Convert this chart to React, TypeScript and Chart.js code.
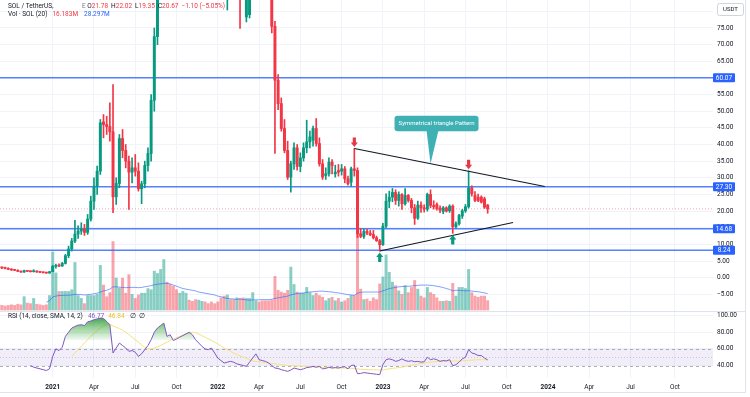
import React, { useEffect, useRef } from 'react';
import { Chart, registerables } from 'chart.js';

Chart.register(...registerables);

const FONT = 'Roboto, "Noto Sans", sans-serif';
const GREEN = '#089981';
const RED = '#f23645';
const BLUE = '#2962ff';

// Week index 0 = the weekly bar that opens 2021-01-04
const FIRST_WEEK = -17;

const opens = [
  3.4, 3.1, 2.9, 2.8, 2.5, 2.3, 2.2, 1.9, 1.7, 2.1,
  1.9, 1.8, 2.0, 1.7, 1.6, 1.5, 1.4, 1.8, 3.4, 3.6,
  3.5, 4.3, 6.6, 8.6, 11.0, 13.1, 14.0, 14.6, 13.6, 17.6,
  23.0, 27.5, 32.0, 46.8, 46.0, 45.4, 43.8, 24.3, 28.3, 41.8,
  38.2, 35.0, 31.7, 33.0, 32.0, 26.7, 28.2, 33.7, 37.3, 53.3,
  72.4, 100, 140, 172, 150, 140, 150, 140, 165, 195,
  240, 215, 210, 195, 230, 235, 205, 190, 175, 170,
  142, 128, 95, 115, 110, 98, 102, 90, 78.3, 79,
  94, 107, 122, 112, 101, 99, 88, 75.5, 59.3, 52.3,
  44.8, 38.2, 30.2, 34.2, 39.0, 33.4, 36.0, 39.0, 40.8, 41.3,
  44.8, 40.3, 34.2, 30.7, 31.2, 34.7, 31.2, 32.2, 32.0, 32.7,
  29.7, 28.7, 32.7, 32.2, 13.2, 12.4, 13.9, 13.4, 13.0, 12.0,
  11.1, 9.9, 15.5, 23.0, 24.2, 25.6, 23.2, 25.0, 22.2, 24.7,
  23.2, 21.0, 17.9, 21.8, 21.0, 20.6, 25.0, 21.7, 22.0, 20.9,
  19.9, 21.0, 20.1, 21.5, 15.3, 16.2, 18.5, 20.1, 21.3, 27.0,
  24.7, 24.2, 24.2, 23.7, 21.78,
];
const highs = [
  3.7, 3.3, 3.2, 3.0, 2.7, 2.5, 2.4, 2.0, 2.3, 2.2,
  2.0, 2.4, 2.1, 1.8, 1.7, 1.6, 1.9, 3.7, 4.1, 4.2,
  4.6, 7.0, 9.5, 11.8, 17.2, 15.6, 16.5, 16.0, 19.0, 24.5,
  30.0, 33.5, 47.5, 49.0, 48.5, 52.5, 58.0, 30.0, 43.0, 44.5,
  40.0, 36.5, 36.0, 37.0, 34.5, 29.0, 35.0, 39.0, 55.0, 75.0,
  110, 145, 216, 180, 160, 150, 160, 175, 200, 260,
  248, 240, 230, 235, 240, 238, 210, 195, 190, 180,
  148, 132, 105, 118, 118, 104, 104, 100, 91, 96,
  110, 130, 137, 115, 110, 104, 99, 77, 61, 54,
  47.5, 41.0, 35.0, 40.5, 40.0, 37.5, 40.5, 47.3, 44.0, 45.5,
  47.8, 42.0, 35.5, 33.0, 36.0, 35.5, 33.8, 34.0, 34.0, 33.4,
  30.5, 33.2, 38.8, 33.0, 14.8, 14.6, 14.5, 14.2, 14.2, 12.5,
  11.5, 16.3, 25.2, 26.0, 26.8, 26.4, 25.8, 25.3, 26.8, 25.0,
  23.8, 22.0, 23.0, 22.8, 21.9, 25.4, 26.4, 23.1, 22.5, 21.6,
  21.4, 21.3, 21.9, 21.9, 16.8, 19.0, 20.5, 22.0, 32.1, 27.6,
  25.9, 25.1, 24.6, 24.2, 22.02,
];
const lows = [
  2.7, 2.7, 2.6, 2.4, 2.2, 2.1, 1.8, 1.6, 1.6, 1.8,
  1.7, 1.7, 1.6, 1.5, 1.4, 1.3, 1.3, 1.8, 2.9, 3.3,
  3.4, 4.1, 6.0, 8.0, 10.5, 11.8, 13.0, 12.7, 13.0, 17.0,
  20.5, 25.0, 31.0, 42.0, 43.0, 41.0, 19.5, 22.0, 27.0, 36.0,
  33.0, 20.5, 28.5, 30.5, 26.0, 22.2, 27.0, 32.0, 35.0, 50.0,
  70, 95, 135, 138, 125, 128, 135, 138, 160, 190,
  210, 200, 190, 190, 200, 200, 180, 170, 165, 140,
  125, 90, 80.4, 92, 92, 88, 74.9, 84, 76.8, 78,
  93, 104, 110, 97, 95, 88, 73.5, 37.3, 50.5, 44,
  37.5, 29.5, 25.7, 32.5, 32.3, 31.8, 35.0, 37.5, 39.0, 39.5,
  39.5, 33.5, 29.5, 29.5, 30.5, 31.2, 30.2, 30.5, 30.8, 28.5,
  27.8, 27.5, 30.5, 12.0, 12.0, 11.8, 12.9, 12.6, 11.6, 10.9,
  8.0, 9.7, 15.0, 21.0, 22.8, 22.0, 21.5, 20.5, 21.8, 22.7,
  19.5, 16.0, 17.5, 19.6, 19.7, 20.0, 21.0, 20.6, 20.3, 19.5,
  19.2, 19.7, 19.6, 13.3, 14.9, 15.8, 17.8, 19.6, 20.9, 24.5,
  22.8, 22.8, 22.4, 20.8, 19.35,
];
const closes = [
  3.1, 2.9, 2.8, 2.5, 2.3, 2.2, 1.9, 1.7, 2.1, 1.9,
  1.8, 2.0, 1.7, 1.6, 1.5, 1.4, 1.8, 3.4, 3.6, 3.5,
  4.3, 6.6, 8.6, 11.0, 13.1, 14.0, 14.6, 13.6, 17.6, 23.0,
  27.5, 32.0, 46.5, 46.0, 45.4, 43.8, 24.3, 28.3, 41.8, 38.2,
  35.0, 31.7, 33.0, 32.0, 26.7, 28.2, 33.7, 37.3, 53.3, 72.4,
  100, 140, 172, 150, 136, 132, 140, 165, 195, 240,
  215, 210, 195, 230, 235, 205, 190, 175, 170, 142,
  128, 95, 100, 110, 98, 102, 90, 86, 88, 94,
  107, 122, 112, 101, 99, 92, 75.5, 59.3, 52.3, 44.8,
  38.2, 30.2, 34.2, 39.0, 33.4, 36.0, 39.0, 40.8, 42.3, 44.8,
  40.3, 34.2, 30.2, 31.2, 34.7, 33.7, 31.7, 31.7, 32.7, 29.7,
  28.2, 32.7, 32.2, 13.2, 12.4, 13.9, 13.4, 12.9, 12.0, 11.1,
  9.9, 15.5, 23.0, 24.2, 25.6, 23.2, 25.0, 22.2, 24.7, 23.2,
  21.0, 17.8, 21.8, 21.0, 20.6, 25.0, 21.7, 21.3, 20.8, 20.3,
  21.0, 20.0, 21.5, 15.3, 16.2, 18.7, 20.1, 21.3, 27.0, 25.2,
  23.2, 23.2, 22.7, 21.2, 20.67,
];
// weekly volume, millions of SOL
const volumes = [
  10, 8, 7, 8, 9, 8, 10, 9, 23, 12,
  11, 20, 10, 9, 8, 9, 25, 100, 64, 32,
  32, 32, 32, 35, 82, 25, 20, 11, 25, 25,
  25, 27, 77, 43, 23, 30, 118, 55, 38, 55,
  29, 61, 27, 20, 26, 29, 29, 37, 35, 67,
  63, 70, 87, 48, 44, 41, 35, 29, 32, 29,
  17, 15, 18, 17, 15, 14, 11, 14, 11, 14,
  21, 24, 26, 18, 18, 21, 20, 21, 20, 20,
  30, 16, 14, 16, 16, 16, 17, 58, 34, 31,
  29, 34, 74, 44, 31, 29, 29, 39, 30, 25,
  29, 25, 22, 16, 20, 22, 16, 20, 14, 16,
  20, 25, 25, 136, 36, 18, 19, 15, 21, 18,
  45, 57, 95, 65, 48, 42, 33, 27, 42, 30,
  39, 51, 36, 24, 21, 39, 30, 27, 21, 15,
  15, 16, 15, 46, 24, 39, 39, 37, 70, 30,
  24, 22, 24, 24, 16.183,
];
const VOL_MA_START = -2;
const volumeMA = [
  13.5, 16, 22.5, 24, 25, 25, 25.5, 25.5, 26, 27,
  27, 26.5, 26, 26.5, 27, 28, 29, 31, 33, 34,
  36, 40, 40, 39.5, 39, 38.5, 39, 39, 39, 38.5,
  39, 40, 41, 42, 43.5, 44.5, 45, 46, 46, 45,
  43, 41, 39, 37, 36, 35, 34, 33, 31, 30,
  29, 28, 27, 26, 24, 23, 21, 20, 19.5, 19,
  18.5, 19, 18, 17.5, 17, 17.5, 17.5, 17.5, 18, 18,
  18, 18.5, 20, 21, 22, 23, 24, 26, 27.5, 28.5,
  29, 29.5, 30.5, 31, 31.5, 32, 32.5, 32.5, 32, 31.5,
  31, 30, 29.5, 28.5, 27.5, 26.5, 26, 25.5, 29, 30.5,
  31, 31, 31, 31, 31, 31, 33, 35, 37, 38,
  39, 40, 40.5, 41, 41, 41.5, 42, 42.5, 43, 43,
  43, 42.5, 42, 41, 40, 38.7, 37, 35.5, 33, 34,
  34, 33.5, 33, 33.5, 32.7, 32, 31.5, 30.5, 29.5, 28.297,
];
const RSI_START = -7;
const rsiValues = [
  40, 38, 37, 36, 35, 34, 36, 51, 60, 58,
  62, 75, 80, 85, 87, 88.5, 89, 88, 92.5, 93.5,
  95, 96, 97, 96.5, 93, 89, 55, 61, 67, 64,
  61, 57, 58, 56, 51, 54, 59, 64, 71, 80,
  85, 88, 91, 75, 77, 70, 72, 74, 76, 78,
  80, 77, 71, 67, 63, 60, 59, 61, 55, 49,
  46, 43, 44, 45, 44, 42, 41, 40, 39, 44,
  49, 54, 47, 46, 45, 43, 40, 37, 36.5, 35,
  34, 33, 34.5, 37, 36, 35, 36, 37.5, 38, 39,
  38, 39, 36, 36.5, 38, 37, 37.5, 37, 38, 38.5,
  36, 40, 40.5, 30.2, 30.5, 31.5, 31, 30.5, 30, 29.5,
  29, 41, 47, 48, 47, 45, 46, 48, 46, 45,
  45.7, 44.5, 45, 44, 44.5, 50, 47, 48, 47, 45,
  46, 45.5, 47, 39.8, 41, 44, 48, 50, 59, 55,
  54, 52, 52, 49, 46.77,
];
const RSI_SMA_START = 6;
const rsiSMA = [
  51, 55, 59, 63, 67, 71, 75, 78.5, 82, 85,
  87.5, 89, 89.5, 87.5, 86, 84.5, 82.5, 80, 77, 74,
  71, 68, 65, 62, 60, 60, 61, 62.5, 64, 66,
  68, 70, 72, 73.5, 75, 76.5, 78, 79, 80, 79.5,
  78, 76, 74, 72, 70, 68, 66, 63.5, 61, 59,
  57, 55, 53, 51.5, 50, 48.5, 47, 45.5, 45, 44.5,
  44, 43.5, 43, 42.5, 42, 41.5, 41, 40.5, 40, 39.8,
  39.6, 39.4, 39.2, 39, 38.8, 38.6, 38.4, 38.2, 38, 37.8,
  37.6, 37.4, 37.2, 37.1, 37, 37, 37, 36.8, 36.6, 36.4,
  36, 35.6, 35.3, 35, 34.9, 34.8, 34.7, 34.5, 34.8, 35.4,
  36, 36.6, 37, 37.5, 38, 38.8, 39.6, 40.4, 41, 41.8,
  42.4, 43, 43.5, 44, 44.4, 44.8, 45, 45.2, 45.3, 45.4,
  45.4, 45.3, 45.4, 45.6, 45.8, 46.2, 46.5, 46.7, 46.9, 47,
  46.9, 46.84,
];

const tickWeeks = [0, 13, 26, 39, 52, 65, 78, 91, 104, 117, 130, 143, 156, 169, 182, 196];
const tickLabels = ['2021', 'Apr', 'Jul', 'Oct', '2022', 'Apr', 'Jul', 'Oct', '2023', 'Apr', 'Jul', 'Oct', '2024', 'Apr', 'Jul', 'Oct'];
const priceTicks = [-5, 0, 5, 10, 15, 20, 25, 30, 35, 40, 45, 50, 55, 60, 65, 70, 75, 80];
const rsiTicks = [40, 60, 80, 100];
const rsiBands = [60, 50, 40];
const RSI_OB = 70;
const levels = [60.07, 27.3, 14.68, 8.24];
const lastPrice = 20.67;
const upperTrend = [{ w: 95, p: 38.8 }, { w: 155, p: 27.4 }];
const lowerTrend = [{ w: 103, p: 8.0 }, { w: 145, p: 16.6 }];
const sellArrowWeeks = [95, 131];
const buyArrowWeeks = [103, 126];
const calloutWeek = 119;
const calloutText = 'Symmetrical triangle Pattern';

const X_MIN = -16.6;
const X_MAX = 207.97;

const fmt = (v: number) => (v < 0 ? '\u2212' : '') + Math.abs(v).toFixed(2);
const idx = (w: number) => w - FIRST_WEEK;

function drawArrow(ctx: CanvasRenderingContext2D, x: number, tipY: number, down: boolean, color: string) {
  const headW = 7, headH = 4.5, stemW = 3.2, stemH = 5;
  const s = down ? -1 : 1;
  const baseY = tipY + s * headH;
  ctx.fillStyle = color;
  ctx.beginPath();
  ctx.moveTo(x, tipY);
  ctx.lineTo(x - headW / 2, baseY);
  ctx.lineTo(x - stemW / 2, baseY);
  ctx.lineTo(x - stemW / 2, baseY + s * stemH);
  ctx.lineTo(x + stemW / 2, baseY + s * stemH);
  ctx.lineTo(x + stemW / 2, baseY);
  ctx.lineTo(x + headW / 2, baseY);
  ctx.closePath();
  ctx.fill();
}

function roundRect(ctx: CanvasRenderingContext2D, x: number, y: number, w: number, h: number, r: number) {
  ctx.beginPath();
  ctx.moveTo(x + r, y);
  ctx.lineTo(x + w - r, y);
  ctx.quadraticCurveTo(x + w, y, x + w, y + r);
  ctx.lineTo(x + w, y + h - r);
  ctx.quadraticCurveTo(x + w, y + h, x + w - r, y + h);
  ctx.lineTo(x + r, y + h);
  ctx.quadraticCurveTo(x, y + h, x, y + h - r);
  ctx.lineTo(x, y + r);
  ctx.quadraticCurveTo(x, y, x + r, y);
  ctx.closePath();
}

function flow(ctx: CanvasRenderingContext2D, parts: [string, string, number?][], x: number, y: number) {
  let cx = x;
  for (const [t, c, gap] of parts) {
    ctx.fillStyle = c;
    ctx.fillText(t, cx, y);
    cx += ctx.measureText(t).width + (gap ?? 0);
  }
}

const noPad = (s: any) => {
  s.paddingTop = 0;
  s.paddingBottom = 0;
  s.paddingLeft = 0;
  s.paddingRight = 0;
};

const overlay = {
  id: 'tvOverlay',
  beforeDatasetsDraw(chart: any) {
    const { ctx, chartArea: a, scales } = chart;
    const r = scales.yRsi;
    const yTop = r.getPixelForValue(rsiBands[0]);
    const yBot = r.getPixelForValue(rsiBands[2]);
    ctx.save();
    ctx.fillStyle = 'rgba(126,87,194,0.1)';
    ctx.fillRect(a.left, yTop, a.right - a.left, yBot - yTop);
    ctx.lineWidth = 1;
    rsiBands.forEach((v, i) => {
      const y = Math.round(r.getPixelForValue(v)) + 0.5;
      ctx.strokeStyle = i === 1 ? 'rgba(120,123,134,0.35)' : 'rgba(120,123,134,0.6)';
      ctx.setLineDash(i === 1 ? [1, 2] : [3, 3]);
      ctx.beginPath();
      ctx.moveTo(a.left, y);
      ctx.lineTo(a.right, y);
      ctx.stroke();
    });
    ctx.restore();
  },
  afterDatasetsDraw(chart: any) {
    const { ctx, scales } = chart;
    const x = scales.x, y = scales.y;
    ctx.save();
    sellArrowWeeks.forEach((w) => {
      drawArrow(ctx, x.getPixelForValue(w), y.getPixelForValue(highs[idx(w)]) - 1.5, true, '#e53945');
    });
    buyArrowWeeks.forEach((w) => {
      drawArrow(ctx, x.getPixelForValue(w), y.getPixelForValue(lows[idx(w)]) + 1.5, false, GREEN);
    });
    // callout
    const [u0, u1] = upperTrend;
    const pAt = u0.p + ((u1.p - u0.p) * (calloutWeek - u0.w)) / (u1.w - u0.w);
    const tx = x.getPixelForValue(calloutWeek);
    const ty = y.getPixelForValue(pAt);
    const bw = 84, bh = 15.5;
    const bx = tx + 6 - bw / 2;
    const by = ty - 48;
    ctx.fillStyle = '#3fb1b5';
    ctx.beginPath();
    ctx.moveTo(tx - 4, by + bh - 1);
    ctx.lineTo(tx + 8, by + bh - 1);
    ctx.lineTo(tx, ty);
    ctx.closePath();
    ctx.fill();
    roundRect(ctx, bx, by, bw, bh, 3);
    ctx.fill();
    ctx.fillStyle = '#ffffff';
    ctx.font = `6px ${FONT}`;
    ctx.textAlign = 'center';
    ctx.textBaseline = 'middle';
    ctx.fillText(calloutText, bx + bw / 2, by + bh / 2 + 0.5);
    ctx.restore();
  },
  afterDraw(chart: any) {
    const { ctx, chartArea: a, scales } = chart;
    const y = scales.y;
    ctx.save();
    // pane separators and frame
    ctx.strokeStyle = '#e0e3eb';
    ctx.lineWidth = 1;
    ctx.beginPath();
    const sepY = Math.round(scales.yRsi.top) + 0.5;
    ctx.moveTo(0, sepY); ctx.lineTo(745, sepY);
    ctx.moveTo(745.5, 0); ctx.lineTo(745.5, 393);
    ctx.moveTo(0, 392.5); ctx.lineTo(745, 392.5);
    ctx.stroke();

    // price labels on the axis
    ctx.font = `6.5px ${FONT}`;
    ctx.textAlign = 'center';
    ctx.textBaseline = 'middle';
    levels.forEach((v) => {
      const py = y.getPixelForValue(v);
      ctx.fillStyle = BLUE;
      roundRect(ctx, a.right, py - 4.5, 22, 9, 1);
      ctx.fill();
      ctx.fillStyle = '#ffffff';
      ctx.fillText(v.toFixed(2), a.right + 11, py + 0.3);
    });

    // currency box
    ctx.fillStyle = '#ffffff';
    ctx.strokeStyle = '#d1d4dc';
    roundRect(ctx, 717.5, 3.5, 26, 12, 2);
    ctx.fill();
    ctx.stroke();
    ctx.fillStyle = '#131722';
    ctx.font = `6px ${FONT}`;
    ctx.fillText('USDT', 730.5, 9.8);

    // legends
    ctx.textAlign = 'left';
    ctx.font = `6.5px ${FONT}`;
    const dark = '#131722';
    ctx.fillStyle = dark;
    ctx.fillText('SOL / TetherUS,', 8, 6.5);
    ctx.fillStyle = '#787b86';
    ctx.fillText('E', 82, 6.5);
    flow(ctx, [
      ['O', dark], ['21.78', RED, 3],
      ['H', dark], ['22.02', RED, 3],
      ['L', dark], ['19.35', RED, 3],
      ['C', dark], ['20.67', RED, 3],
      ['\u22121.10 (\u22125.05%)', RED],
    ], 87.3, 6.5);
    flow(ctx, [['Vol \u00b7 SOL (20)', dark, 5], ['16.183M', RED, 6], ['28.297M', BLUE]], 8, 14.7);
    flow(ctx, [
      ['RSI (14, close, SMA, 14, 2)', dark, 5],
      ['46.77', '#7e57c2', 4],
      ['46.84', '#e6c229', 5],
      ['\u2205', dark, 3],
      ['\u2205', dark],
    ], 8, 316.8);
    ctx.restore();
  },
};

export default function App() {
  const ref = useRef<HTMLCanvasElement>(null);

  useEffect(() => {
    const canvas = ref.current;
    if (!canvas) return;
    const up = closes.map((c, i) => c >= opens[i]);
    const candleColors = up.map((u) => (u ? GREEN : RED));
    const volColors = up.map((u) => (u ? 'rgba(8,153,129,0.48)' : 'rgba(242,54,69,0.45)'));
    const weekOf = (i: number) => FIRST_WEEK + i;

    const hLine = (v: number) => [{ x: X_MIN, y: v }, { x: X_MAX, y: v }];
    const lineBase = { type: 'line' as const, pointRadius: 0, tension: 0, yAxisID: 'y' };

    const chart = new Chart(canvas, {
      type: 'bar',
      data: {
        datasets: [
          {
            type: 'bar',
            data: volumes.map((v, i) => ({ x: weekOf(i), y: v })),
            yAxisID: 'yVol',
            backgroundColor: volColors,
            barThickness: 2.3,
            grouped: false,
            order: 20,
          } as any,
          {
            type: 'line',
            data: volumeMA.map((v, i) => ({ x: VOL_MA_START + i, y: v })),
            yAxisID: 'yVol',
            borderColor: 'rgba(41,98,255,0.75)',
            borderWidth: 0.8,
            pointRadius: 0,
            order: 19,
          },
          {
            type: 'line',
            data: rsiSMA.map((v, i) => ({ x: RSI_SMA_START + i, y: v })),
            yAxisID: 'yRsi',
            borderColor: '#f6e27b',
            borderWidth: 1,
            pointRadius: 0,
            order: 12,
          },
          {
            type: 'line',
            data: rsiValues.map((v, i) => ({ x: RSI_START + i, y: v })),
            yAxisID: 'yRsi',
            borderColor: '#7e57c2',
            borderWidth: 1,
            pointRadius: 0,
            fill: { target: { value: RSI_OB }, below: 'rgba(0,0,0,0)' },
            backgroundColor: (c: any) => {
              const ch = c.chart;
              const s = ch.scales && ch.scales.yRsi;
              if (!s || !ch.chartArea) return 'rgba(76,175,80,0.4)';
              const g = ch.ctx.createLinearGradient(0, s.getPixelForValue(100), 0, s.getPixelForValue(RSI_OB));
              g.addColorStop(0, 'rgba(46,150,60,1)');
              g.addColorStop(0.5, 'rgba(76,175,80,0.55)');
              g.addColorStop(1, 'rgba(76,175,80,0.05)');
              return g;
            },
            order: 11,
          } as any,
          {
            ...lineBase,
            data: hLine(lastPrice),
            borderColor: 'rgba(242,54,69,0.45)',
            borderWidth: 1,
            borderDash: [1, 2],
            order: 10,
          },
          ...levels.map((v) => ({
            ...lineBase,
            data: hLine(v),
            borderColor: 'rgba(41,98,255,0.8)',
            borderWidth: 1.5,
            order: 9,
          })),
          {
            type: 'bar',
            data: lows.map((l, i) => ({ x: weekOf(i), y: [l, highs[i]] })),
            yAxisID: 'y',
            backgroundColor: candleColors,
            barThickness: 1,
            grouped: false,
            order: 4,
          } as any,
          {
            type: 'bar',
            data: opens.map((o, i) => ({ x: weekOf(i), y: [o, closes[i]] })),
            yAxisID: 'y',
            backgroundColor: candleColors,
            barThickness: 2.3,
            minBarLength: 1,
            grouped: false,
            order: 3,
          } as any,
          {
            ...lineBase,
            data: upperTrend.map((t) => ({ x: t.w, y: t.p })),
            borderColor: '#131722',
            borderWidth: 1.1,
            order: 2,
          },
          {
            ...lineBase,
            data: lowerTrend.map((t) => ({ x: t.w, y: t.p })),
            borderColor: '#131722',
            borderWidth: 1.1,
            order: 2,
          },
        ] as any,
      },
      options: {
        responsive: false,
        maintainAspectRatio: false,
        animation: false,
        events: [],
        layout: { padding: 0 },
        plugins: { legend: { display: false }, tooltip: { enabled: false } },
        scales: {
          x: {
            type: 'linear',
            min: X_MIN,
            max: X_MAX,
            offset: false,
            grid: { color: '#f0f3fa', drawTicks: false, offset: false },
            border: { display: false },
            afterBuildTicks: (s: any) => {
              s.ticks = tickWeeks.map((v) => ({ value: v }));
            },
            afterFit: (s: any) => {
              s.height = 19;
              noPad(s);
            },
            ticks: {
              autoSkip: false,
              maxRotation: 0,
              padding: 5,
              color: '#131722',
              callback: (_v: any, i: number) => tickLabels[i],
              font: (c: any) => ({
                family: FONT,
                size: 6.5,
                weight: /^\d{4}$/.test(tickLabels[c.index] || '') ? 'bold' : 'normal',
              }),
            },
          },
          y: {
            type: 'linear',
            position: 'right',
            stack: 'panes',
            stackWeight: 311,
            min: -10,
            max: 83.4,
            grid: { color: '#f0f3fa', drawTicks: false },
            border: { display: false },
            afterBuildTicks: (s: any) => {
              s.ticks = priceTicks.map((v) => ({ value: v }));
            },
            afterFit: (s: any) => {
              s.width = 37;
              noPad(s);
            },
            ticks: {
              autoSkip: false,
              padding: 4,
              color: '#131722',
              font: { family: FONT, size: 6.5 },
              callback: (v: any) => fmt(Number(v)),
            },
          },
          yRsi: {
            type: 'linear',
            position: 'right',
            stack: 'panes',
            stackWeight: 67,
            min: 25,
            max: 105.5,
            grid: { color: '#f0f3fa', drawTicks: false },
            border: { display: false },
            afterBuildTicks: (s: any) => {
              s.ticks = rsiTicks.map((v) => ({ value: v }));
            },
            afterFit: (s: any) => {
              s.width = 37;
              noPad(s);
            },
            ticks: {
              autoSkip: false,
              padding: 4,
              color: '#131722',
              font: { family: FONT, size: 6.5 },
              callback: (v: any) => fmt(Number(v)),
            },
          },
          yVol: {
            type: 'linear',
            position: 'right',
            display: false,
            min: -117.2,
            max: 534.5,
            afterFit: noPad,
          },
        },
      } as any,
      plugins: [overlay],
    });
    return () => chart.destroy();
  }, []);

  return (
    <div style={{ position: 'absolute', left: 0, top: 0, width: 750, height: 397, background: '#ffffff' }}>
      <canvas ref={ref} width={750} height={397} style={{ display: 'block', width: 750, height: 397 }} />
    </div>
  );
}
